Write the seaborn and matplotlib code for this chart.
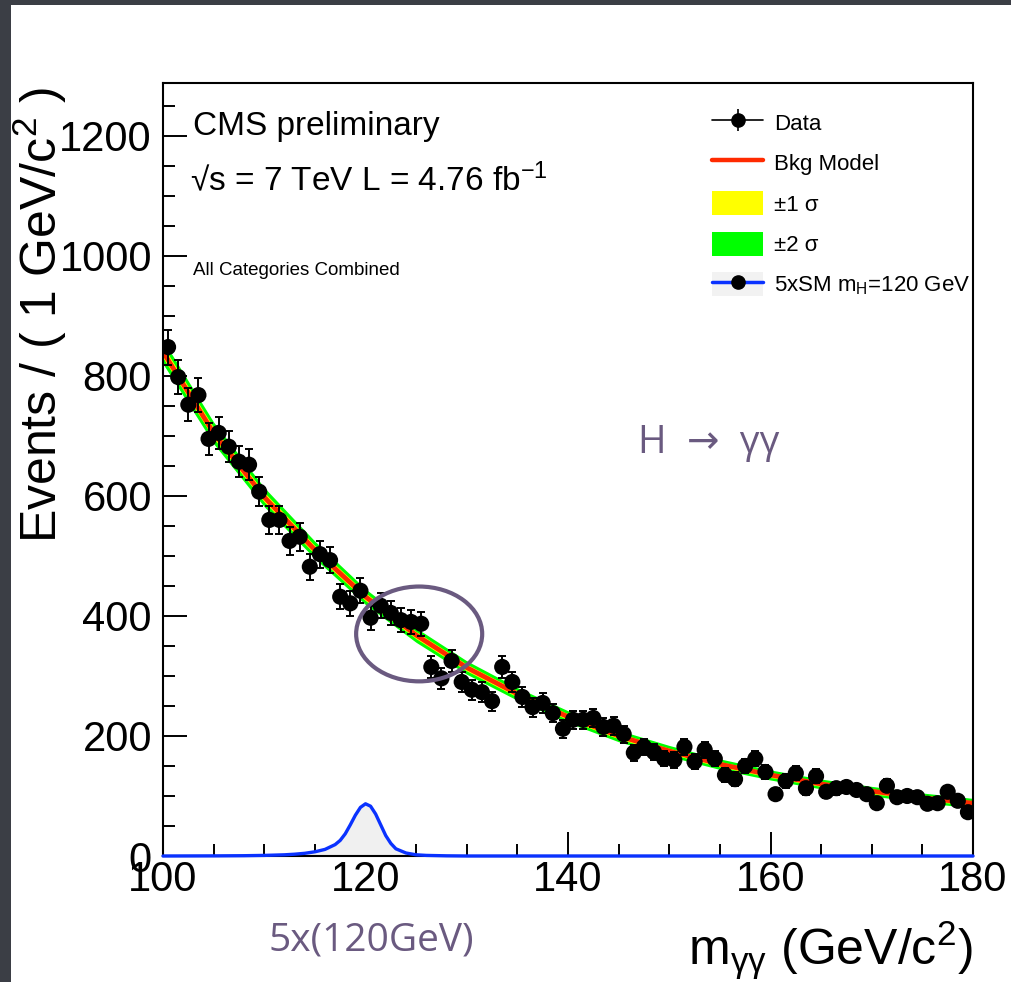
import matplotlib
matplotlib.use("Agg")
import numpy as np
import matplotlib.pyplot as plt
import seaborn as sns
from matplotlib.patches import Rectangle, Ellipse, Patch
from matplotlib.lines import Line2D
from matplotlib.legend_handler import HandlerTuple
from matplotlib.ticker import MultipleLocator

# ---------------- data ----------------
mass_bins = [100.5 + i for i in range(80)]  # 1 GeV bin centres
events = [848, 798, 752, 768, 695, 705, 682, 657, 652, 607,
          560, 560, 525, 532, 482, 503, 493, 432, 421, 442,
          397, 417, 405, 393, 390, 387, 315, 296, 325, 290,
          277, 273, 258, 315, 290, 265, 248, 255, 238, 212,
          227, 227, 230, 215, 217, 203, 172, 182, 173, 162,
          160, 182, 157, 177, 162, 135, 128, 150, 162, 140,
          103, 125, 138, 113, 133, 107, 113, 115, 110, 103,
          88, 117, 98, 100, 98, 87, 88, 107, 92, 73]

bkg_mass = [100, 105, 110, 115, 120, 125, 130, 135, 140, 145, 150, 155, 160, 165, 170, 175, 180]
bkg_model = [840, 705, 598, 510, 432, 368, 314, 270, 232, 200, 175, 153, 135, 120, 108, 97, 88]
bkg_sigma1 = [10, 9, 8, 7.2, 6.5, 6, 5.6, 5.3, 5, 4.8, 4.6, 4.4, 4.2, 4.1, 4, 4, 4]
bkg_sigma2 = [20, 18, 16, 14.5, 13, 12, 11.2, 10.6, 10, 9.6, 9.2, 8.8, 8.4, 8.2, 8, 8, 8]

sig_mass = [100, 105, 108, 110, 112, 113, 114, 115, 116, 117, 117.5, 118, 118.5, 119, 119.5,
            120, 120.5, 121, 121.5, 122, 122.5, 123, 124, 125, 126, 128, 130, 180]
sig_vals = [0, 0.2, 0.5, 1, 2, 3, 4.5, 7, 11, 19, 26, 37, 52, 68, 81,
            87, 83, 70, 52, 34, 21, 12, 5, 2, 1, 0.3, 0, 0]

x_ticks = [100, 120, 140, 160, 180]
y_ticks = [0, 200, 400, 600, 800, 1000, 1200]

# ---------------- style ----------------
W, H = 1012, 982
sns.set_theme(style="white")
plt.rcParams["font.family"] = ["Liberation Sans", "DejaVu Sans"]
plt.rcParams["mathtext.default"] = "regular"
plt.rcParams["text.color"] = "black"
plt.rcParams["legend.labelcolor"] = "black"

RED = "#ff2a00"
BLUE = "#0a32ff"
PURPLE = "#6a5a80"

fig = plt.figure(figsize=(W / 100, H / 100), dpi=100, facecolor="#3b3e45")
fig.patches.append(Rectangle((11 / W, 0), 1 - 11 / W, 1 - 5 / H, transform=fig.transFigure,
                             facecolor="white", edgecolor="none", zorder=-5))

ax_l, ax_r, ax_t, ax_b = 163, 973, 83, 856
ax = fig.add_axes([ax_l / W, 1 - ax_b / H, (ax_r - ax_l) / W, (ax_b - ax_t) / H])
ax.set_facecolor("white")

# signal fill + line
ax.fill_between(sig_mass, 0, sig_vals, color="#f0f0f0", lw=0, zorder=1)

# bands
b = np.array(bkg_model, dtype=float)
s1 = np.array(bkg_sigma1)
s2 = np.array(bkg_sigma2)
ax.fill_between(bkg_mass, b - s2, b + s2, color="#00ff00", lw=0, zorder=2)
ax.fill_between(bkg_mass, b - s1, b + s1, color="#ffff00", lw=0, zorder=2.1)
sns.lineplot(x=bkg_mass, y=bkg_model, color=RED, lw=3.4, ax=ax, zorder=2.2)

sns.lineplot(x=sig_mass, y=sig_vals, color=BLUE, lw=2.4, ax=ax, zorder=3)
ax.lines[-1].set_clip_on(False)

# data
yerr = np.sqrt(np.array(events, dtype=float))
ax.errorbar(mass_bins, events, yerr=yerr, fmt="none", ecolor="black", elinewidth=1.4,
            capsize=2.9, capthick=1.4, zorder=4)
sns.scatterplot(x=mass_bins, y=events, color="black", s=135, edgecolor="none", ax=ax, zorder=5)

# ellipse
ax.add_patch(Ellipse((125.3, 370), 12.45, 158, fill=False, edgecolor=PURPLE, lw=3, zorder=6))

ax.set_xlim(100, 180)
ax.set_ylim(0, 1288)
ax.set_xticks(x_ticks)
ax.set_yticks(y_ticks)
ax.xaxis.set_minor_locator(MultipleLocator(5))
ax.yaxis.set_minor_locator(MultipleLocator(50))
ax.tick_params(which="major", direction="in", length=17, width=1.4, color="black",
               labelsize=30, labelcolor="black")
ax.tick_params(which="minor", direction="in", length=8.5, width=1.4, color="black")
ax.tick_params(axis="y", which="major", pad=8)
ax.tick_params(axis="x", which="major", pad=3)
ax.tick_params(left=True, bottom=True, top=False, right=False, which="both")
for sp in ax.spines.values():
    sp.set_color("black")
    sp.set_linewidth(1.5)
ax.grid(False)
ax.set_xlabel("")
ax.set_ylabel("")

# texts
def fx(px):
    return px / W

def fy(py):
    return 1 - py / H

fig.text(fx(40), fy(315), "Events / ( 1 GeV/c$^{2}$ )", rotation=90, ha="center", va="center",
         fontsize=36, color="black")
fig.text(fx(973), fy(950), r"m$_{\gamma\gamma}$ (GeV/c$^{2}$)", ha="right", va="center",
         fontsize=36, color="black")
fig.text(fx(193), fy(135), "CMS preliminary", ha="left", va="baseline", fontsize=24, color="black")
fig.text(fx(190), fy(190), "\u221As = 7 TeV L = 4.76 fb$^{-1}$", ha="left", va="baseline",
         fontsize=24, color="black")
fig.text(fx(193), fy(275), "All Categories Combined", ha="left", va="baseline", fontsize=13.5,
         color="black")

fig.text(fx(638), fy(443), "H  \u2192  \u03b3\u03b3", ha="left", va="center", fontsize=28,
         color=PURPLE, family=["Open Sans", "DejaVu Sans"])
fig.text(fx(371), fy(940), "5x(120GeV)", ha="center", va="center", fontsize=28,
         color=PURPLE, family=["Open Sans", "DejaVu Sans"])

# legend
data_h = (Line2D([0], [0], color="black", lw=1.2),
          Line2D([0], [0], marker="|", ms=16, mew=1.2, color="black", ls="none"),
          Line2D([0], [0], marker="o", ms=9.5, color="black", ls="none"))
bkg_h = Line2D([0], [0], color=RED, lw=3.2)
s1_h = Patch(facecolor="#ffff00", edgecolor="none")
s2_h = Patch(facecolor="#00ff00", edgecolor="none")
sig_h = (Patch(facecolor="#f2f2f2", edgecolor="none"),
         Line2D([0], [0], color=BLUE, lw=2.5),
         Line2D([0], [0], marker="o", ms=9.5, color="black", ls="none"))
labels = ["Data", "Bkg Model", "\u00b11 \u03c3", "\u00b12 \u03c3", "5xSM m$_{H}$=120 GeV"]
fig.legend([data_h, bkg_h, s1_h, s2_h, sig_h], labels, loc="upper left",
           bbox_to_anchor=(fx(712), fy(110)), frameon=False, fontsize=16,
           handlelength=2.3, handleheight=1.3, handletextpad=0.5, labelspacing=0.72,
           borderpad=0, borderaxespad=0,
           handler_map={tuple: HandlerTuple(ndivide=1)})

fig.savefig("out.png", dpi=100, facecolor=fig.get_facecolor())
